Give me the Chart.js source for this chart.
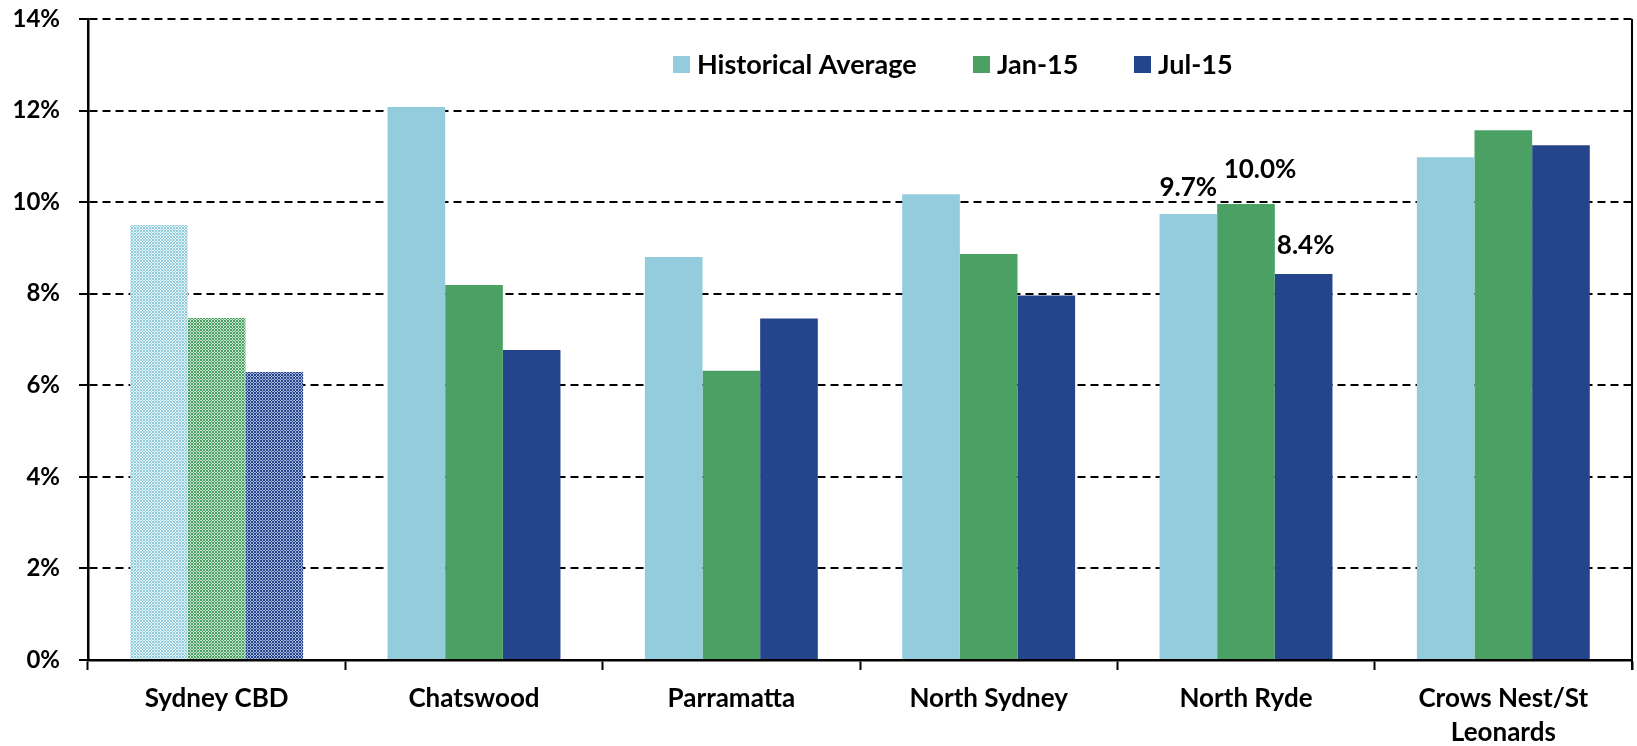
<!DOCTYPE html>
<html>
<head>
<meta charset="utf-8">
<script src="https://cdn.jsdelivr.net/npm/chart.js@4/dist/chart.umd.min.js"></script>
<style>
  html, body { margin: 0; padding: 0; background: #fff; }
  #wrap { width: 1637px; height: 746px; }
</style>
</head>
<body>
<div id="wrap"><canvas id="vacancy" width="1637" height="746"></canvas></div>
<script>
// office vacancy by market
const categories = ['Sydney CBD', 'Chatswood', 'Parramatta', 'North Sydney', 'North Ryde', ['Crows Nest/St', 'Leonards']];
const seriesNames = ['Historical Average', 'Jan-15', 'Jul-15'];
const historicalAvg = [9.50, 12.08, 8.80, 10.17, 9.74, 10.98];
const jan15 = [7.47, 8.19, 6.32, 8.87, 9.96, 11.57];
const jul15 = [6.29, 6.77, 7.46, 7.96, 8.43, 11.24];
const yTicks = [0, 2, 4, 6, 8, 10, 12, 14];
const labelledIndex = 4; // only North Ryde carries value labels

const colors = ['#93CDDD', '#4BA064', '#24448C'];
const tints = ['#E6F4F8', '#C9E5D0', '#A9B8DA'];
const FONT = 'Lato, "Open Sans", sans-serif';

// small checker pattern for the CBD bars
function checker(color, light) {
    const c = document.createElement('canvas');
    c.width = 3; c.height = 3;
    const g = c.getContext('2d');
    g.fillStyle = color;
    g.fillRect(0, 0, 3, 3);
    g.fillStyle = light;
    g.fillRect(1, 0, 1, 1);
    g.fillRect(0, 1, 1, 1);
    g.fillRect(2, 1, 1, 1);
    g.fillRect(1, 2, 1, 1);
    return g.createPattern(c, 'repeat');
}

const seriesData = [historicalAvg, jan15, jul15];
const datasets = seriesData.map((vals, s) => {
    const pat = checker(colors[s], tints[s]);
    return {
        label: seriesNames[s],
        data: vals,
        backgroundColor: vals.map((_, i) => i === 0 ? pat : colors[s]),
        borderWidth: 0,
        categoryPercentage: 0.672,
        barPercentage: 1
    };
});

// frame, legend and value labels
const extras = {
    id: 'extras',
    afterDatasetsDraw(chart, args, opts) {
        const ctx = chart.ctx;
        const area = chart.chartArea;
        ctx.save();
        // right border
        ctx.strokeStyle = '#000';
        ctx.lineWidth = 2;
        ctx.beginPath();
        ctx.moveTo(area.right, area.top);
        ctx.lineTo(area.right, area.bottom + 10);
        ctx.stroke();

        // legend inside plot area
        ctx.font = 'bold 27px ' + FONT;
        ctx.textBaseline = 'middle';
        ctx.textAlign = 'left';
        opts.legendX.forEach((x, s) => {
            ctx.fillStyle = colors[s];
            ctx.fillRect(x, opts.legendY - 8, 17, 17);
            ctx.fillStyle = '#000';
            ctx.fillText(seriesNames[s], x + 24, opts.legendY + 1);
        });

        // value labels
        ctx.font = 'bold 26px ' + FONT;
        ctx.textAlign = 'center';
        ctx.textBaseline = 'alphabetic';
        chart.data.datasets.forEach((ds, s) => {
            const bar = chart.getDatasetMeta(s).data[labelledIndex];
            const nudge = opts.nudge[s];
            const txt = ds.data[labelledIndex].toFixed(1) + '%';
            ctx.fillStyle = '#000';
            ctx.fillText(txt, bar.x + nudge[0], bar.y - nudge[1]);
        });
        ctx.restore();
    }
};

new Chart(document.getElementById('vacancy'), {
    type: 'bar',
    data: { labels: categories, datasets: datasets },
    plugins: [extras],
    options: {
        responsive: false,
        animation: false,
        layout: { padding: { top: 19, right: 5, left: 0, bottom: 0 } },
        plugins: {
            legend: { display: false },
            tooltip: { enabled: false },
            extras: {
                legendX: [673, 973, 1134],
                legendY: 64,
                nudge: [[0, 18], [14, 26], [2, 20]]
            }
        },
        scales: {
            x: {
                grid: {
                    display: true,
                    offset: true,
                    drawOnChartArea: false,
                    drawTicks: true,
                    tickLength: 10,
                    tickColor: '#000',
                    tickWidth: 2
                },
                border: { display: true, color: '#000', width: 2.5 },
                ticks: {
                    color: '#000',
                    padding: 12,
                    font: { family: FONT, size: 26, weight: 'bold', lineHeight: 1.3 },
                    maxRotation: 0,
                    autoSkip: false
                },
                afterFit(scale) { scale.height = 86; }
            },
            y: {
                min: 0,
                max: 14,
                afterBuildTicks(scale) { scale.ticks = yTicks.map(v => ({ value: v })); },
                grid: {
                    color: '#000',
                    lineWidth: 2,
                    drawTicks: true,
                    tickLength: 9,
                    tickColor: '#000',
                    tickWidth: 2,
                    tickBorderDash: []
                },
                border: { display: true, color: '#000', width: 2.5, dash: [8, 5] },
                ticks: {
                    color: '#000',
                    padding: 19,
                    font: { family: FONT, size: 24, weight: 'bold' },
                    callback: v => v + '%'
                },
                // fixed axis width; no extra top/bottom room for the end labels
                afterFit(scale) { scale.width = 88; scale.paddingTop = 0; scale.paddingBottom = 0; }
            }
        }
    }
});
</script>
</body>
</html>
